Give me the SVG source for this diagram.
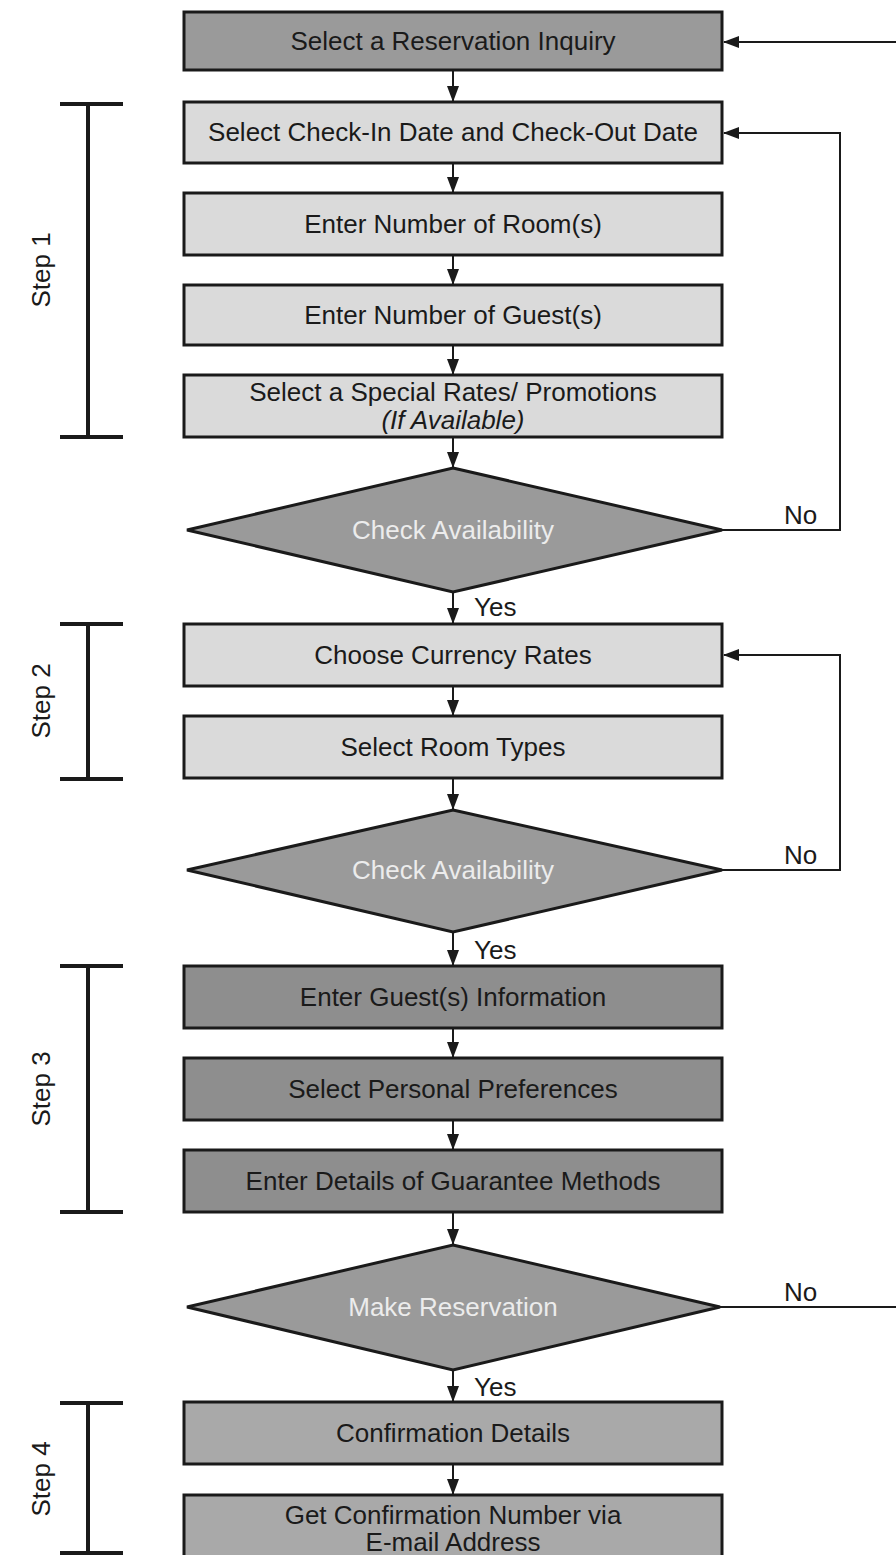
<svg xmlns="http://www.w3.org/2000/svg" width="896" height="1555" viewBox="0 0 896 1555">
<defs>
<marker id="ah" markerWidth="16" markerHeight="12" refX="15" refY="6" orient="auto" markerUnits="userSpaceOnUse">
<path d="M0,0 L16,6 L0,12 Z" fill="#1a1a1a"/>
</marker>
<style>
.box{stroke:#1a1a1a;stroke-width:3}
.light{fill:#dadada}
.dark{fill:#9a9a9a}
.darker{fill:#8e8e8e}
.mid{fill:#a9a9a9}
.dia{fill:#9a9a9a;stroke:#1a1a1a;stroke-width:3}
.t{font-family:"Liberation Sans",Arial,sans-serif;font-size:26px;fill:#1a1a1a;text-anchor:middle}
.tw{font-family:"Liberation Sans",Arial,sans-serif;font-size:26px;fill:#ececec;text-anchor:middle}
.lbl{font-family:"Liberation Sans",Arial,sans-serif;font-size:26px;fill:#1a1a1a}
.con{stroke:#1a1a1a;stroke-width:2;fill:none;marker-end:url(#ah)}
.line{stroke:#1a1a1a;stroke-width:2;fill:none}
.br{stroke:#1a1a1a;stroke-width:4;fill:none}
</style>
</defs>
<rect width="896" height="1555" fill="#ffffff"/>

<g id="brackets">
<path class="br" d="M60,104 H123 M88,104 V437 M60,437 H123"/>
<text class="lbl" transform="translate(50,270) rotate(-90)" text-anchor="middle">Step 1</text>
<path class="br" d="M60,624 H123 M88,624 V779 M60,779 H123"/>
<text class="lbl" transform="translate(50,701) rotate(-90)" text-anchor="middle">Step 2</text>
<path class="br" d="M60,966 H123 M88,966 V1212 M60,1212 H123"/>
<text class="lbl" transform="translate(50,1089) rotate(-90)" text-anchor="middle">Step 3</text>
<path class="br" d="M60,1403 H123 M88,1403 V1553 M60,1553 H123"/>
<text class="lbl" transform="translate(50,1479) rotate(-90)" text-anchor="middle">Step 4</text>
</g>

<g id="connectors">
<line class="con" x1="453" y1="70" x2="453" y2="101"/>
<line class="con" x1="453" y1="163" x2="453" y2="192"/>
<line class="con" x1="453" y1="255" x2="453" y2="284"/>
<line class="con" x1="453" y1="345" x2="453" y2="374"/>
<line class="con" x1="453" y1="437" x2="453" y2="467"/>
<line class="con" x1="453" y1="592" x2="453" y2="623"/>
<line class="con" x1="453" y1="686" x2="453" y2="715"/>
<line class="con" x1="453" y1="778" x2="453" y2="809"/>
<line class="con" x1="453" y1="932" x2="453" y2="965"/>
<line class="con" x1="453" y1="1028" x2="453" y2="1057"/>
<line class="con" x1="453" y1="1120" x2="453" y2="1149"/>
<line class="con" x1="453" y1="1212" x2="453" y2="1244"/>
<line class="con" x1="453" y1="1370" x2="453" y2="1401"/>
<line class="con" x1="453" y1="1464" x2="453" y2="1494"/>
<polyline class="con" points="722,530 840,530 840,133 724,133"/>
<polyline class="con" points="722,870 840,870 840,655 724,655"/>
<line class="line" x1="720" y1="1307" x2="896" y2="1307"/>
<line class="con" x1="896" y1="42" x2="724" y2="42"/>
<text class="lbl" x="784" y="524">No</text>
<text class="lbl" x="784" y="864">No</text>
<text class="lbl" x="784" y="1301">No</text>
<text class="lbl" x="474" y="616">Yes</text>
<text class="lbl" x="474" y="959">Yes</text>
<text class="lbl" x="474" y="1396">Yes</text>
</g>

<g id="n1"><rect class="box dark" x="184" y="12" width="538" height="58"/><text class="t" x="453" y="50">Select a Reservation Inquiry</text></g>
<g id="n2"><rect class="box light" x="184" y="102" width="538" height="61"/><text class="t" x="453" y="141">Select Check-In Date and Check-Out Date</text></g>
<g id="n3"><rect class="box light" x="184" y="193" width="538" height="62"/><text class="t" x="453" y="233">Enter Number of Room(s)</text></g>
<g id="n4"><rect class="box light" x="184" y="285" width="538" height="60"/><text class="t" x="453" y="324">Enter Number of Guest(s)</text></g>
<g id="n5"><rect class="box light" x="184" y="375" width="538" height="62"/><text class="t" x="453" y="401">Select a Special Rates/ Promotions</text><text class="t" x="453" y="429" font-style="italic">(If Available)</text></g>
<g id="d1"><polygon class="dia" points="453,468 722,530 453,592 187,530"/><text class="tw" x="453" y="539">Check Availability</text></g>
<g id="n6"><rect class="box light" x="184" y="624" width="538" height="62"/><text class="t" x="453" y="664">Choose Currency Rates</text></g>
<g id="n7"><rect class="box light" x="184" y="716" width="538" height="62"/><text class="t" x="453" y="756">Select Room Types</text></g>
<g id="d2"><polygon class="dia" points="453,810 722,870 453,932 187,870"/><text class="tw" x="453" y="879">Check Availability</text></g>
<g id="n8"><rect class="box darker" x="184" y="966" width="538" height="62"/><text class="t" x="453" y="1006">Enter Guest(s) Information</text></g>
<g id="n9"><rect class="box darker" x="184" y="1058" width="538" height="62"/><text class="t" x="453" y="1098">Select Personal Preferences</text></g>
<g id="n10"><rect class="box darker" x="184" y="1150" width="538" height="62"/><text class="t" x="453" y="1190">Enter Details of Guarantee Methods</text></g>
<g id="d3"><polygon class="dia" points="453,1245 720,1307 453,1370 187,1307"/><text class="tw" x="453" y="1316">Make Reservation</text></g>
<g id="n11"><rect class="box mid" x="184" y="1402" width="538" height="62"/><text class="t" x="453" y="1442">Confirmation Details</text></g>
<g id="n12"><rect class="box mid" x="184" y="1495" width="538" height="70"/><text class="t" x="453" y="1524">Get Confirmation Number via</text><text class="t" x="453" y="1551">E-mail Address</text></g>
</svg>
